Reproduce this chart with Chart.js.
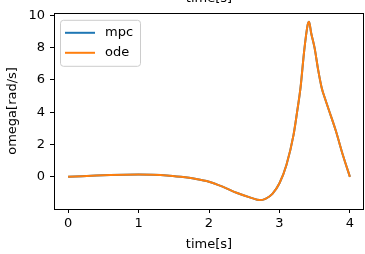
<!DOCTYPE html>
<html>
<head>
<meta charset="utf-8">
<script src="https://cdn.jsdelivr.net/npm/chart.js@4/dist/chart.umd.min.js"></script>
<style>
  html,body{margin:0;padding:0;background:#fff;}
  #wrap{width:365px;height:254px;}
</style>
</head>
<body>
<div id="wrap"><canvas id="c" width="365" height="254"></canvas></div>
<script>
// values
const timeS=[0,0.2,0.4,0.6,0.8,1.0,1.2,1.4,1.6,1.8,2.0,2.2,2.4,2.6,2.72,2.8,2.9,3.0,3.1,3.2,3.25,3.3,3.35,3.4,3.42,3.45,3.5,3.55,3.6,3.65,3.7,3.8,3.9,4.0];
const mpcOmega=[0,0.04,0.08,0.11,0.13,0.14,0.13,0.09,0.0,-0.12,-0.3,-0.62,-1.0,-1.3,-1.44,-1.36,-1.05,-0.4,0.75,2.6,4.0,5.55,7.75,9.4,9.6,8.9,7.95,6.6,5.5,4.8,4.15,2.85,1.35,0.0];
const odeOmega=[0,0.04,0.08,0.11,0.13,0.14,0.13,0.09,0.0,-0.12,-0.3,-0.62,-1.0,-1.3,-1.44,-1.36,-1.05,-0.4,0.75,2.6,4.0,5.55,7.75,9.4,9.6,8.9,7.95,6.6,5.5,4.8,4.15,2.85,1.35,0.0];
const seriesNames=["mpc","ode"];
const xTicks=[0,1,2,3,4];
const yTicks=[0,2,4,6,8,10];
const xLabel="time[s]", yLabel="omega[rad/s]", topTitle="time[s]";

const FONT="'DejaVu Sans', sans-serif";
const toXY=(xs,ys)=>xs.map((x,i)=>({x:x,y:ys[i]}));

// frame box, clipped title at top, matplotlib-like legend
const extras={
  id:"extras",
  afterDraw(chart){
    const ctx=chart.ctx, a=chart.chartArea;
    ctx.save();
    ctx.strokeStyle="#000"; ctx.lineWidth=1;
    ctx.strokeRect(Math.round(a.left)+0.5,Math.round(a.top)+0.5,Math.round(a.right-a.left)-1,Math.round(a.bottom-a.top));
    ctx.fillStyle="#000"; ctx.font="13px "+FONT;
    ctx.textAlign="center"; ctx.textBaseline="alphabetic";
    ctx.fillText(topTitle,(a.left+a.right)/2,2);
    // legend
    const bx=a.left+6, by=a.top+7, bw=80, bh=46;
    ctx.beginPath();
    ctx.roundRect(bx+0.5,by+0.5,bw,bh,3);
    ctx.fillStyle="rgba(255,255,255,0.8)"; ctx.fill();
    ctx.strokeStyle="#cccccc"; ctx.stroke();
    chart.data.datasets.forEach((ds,i)=>{
      const ly=by+13+i*20;
      ctx.beginPath(); ctx.strokeStyle=ds.borderColor; ctx.lineWidth=2;
      ctx.moveTo(bx+5,ly); ctx.lineTo(bx+35,ly); ctx.stroke();
      ctx.fillStyle="#000"; ctx.textAlign="left"; ctx.textBaseline="middle";
      ctx.fillText(ds.label,bx+45,ly);
    });
    ctx.restore();
  }
};

new Chart(document.getElementById("c").getContext("2d"),{
  type:"line",
  data:{datasets:[
    {label:seriesNames[0],data:toXY(timeS,mpcOmega),borderColor:"#1f77b4",borderWidth:2,pointRadius:0,cubicInterpolationMode:"monotone",fill:false,order:1},
    {label:seriesNames[1],data:toXY(timeS,odeOmega),borderColor:"#ff7f0e",borderWidth:2,pointRadius:0,cubicInterpolationMode:"monotone",fill:false,order:0}
  ]},
  options:{
    responsive:false,animation:false,
    layout:{padding:{left:0,right:1,top:2,bottom:0}},
    plugins:{legend:{display:false},tooltip:{enabled:false}},
    scales:{
      x:{
        type:"linear",min:-0.2,max:4.2,
        afterBuildTicks:s=>{s.ticks=xTicks.map(v=>({value:v}));},
        afterFit:s=>{s.height=45;},
        grid:{drawOnChartArea:false,drawTicks:true,tickLength:4,color:"#000"},
        border:{display:false},
        ticks:{color:"#000",font:{family:FONT,size:13},padding:3,maxRotation:0,callback:v=>String(v)},
        title:{display:true,text:xLabel,color:"#000",font:{family:FONT,size:13},padding:{top:0,bottom:2}}
      },
      y:{
        type:"linear",min:-1.99,max:10.15,
        afterBuildTicks:s=>{s.ticks=yTicks.map(v=>({value:v}));},
        afterFit:s=>{s.width=54;},
        grid:{drawOnChartArea:false,drawTicks:true,tickLength:4,color:"#000"},
        border:{display:false},
        ticks:{color:"#000",font:{family:FONT,size:13},padding:5,callback:v=>String(v)},
        title:{display:true,text:yLabel,color:"#000",font:{family:FONT,size:13},padding:{top:5,bottom:0}}
      }
    }
  },
  plugins:[extras]
});
</script>
</body>
</html>
